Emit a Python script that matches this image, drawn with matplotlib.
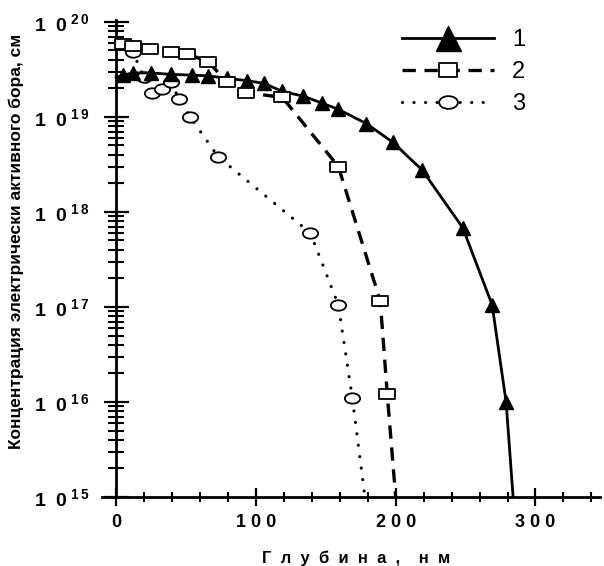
#!/usr/bin/env python3
"""Boron activation depth profiles: three curves on log scale."""
import numpy as np
import matplotlib
matplotlib.use("Agg")
import matplotlib.pyplot as plt
from matplotlib.path import Path
from matplotlib.ticker import FixedLocator, MultipleLocator, LogLocator, FuncFormatter, NullFormatter

plt.rcParams.update({
    "font.family": "Liberation Sans",
    "font.weight": "bold",
    "mathtext.fontset": "custom",
    "mathtext.rm": "Liberation Sans:bold",
    "mathtext.it": "Liberation Sans:bold",
    "mathtext.bf": "Liberation Sans:bold",
})

# ===== DATA =====
# curve 1: first and last points are line ends only (no marker)
depth1 = [0, 5, 12, 25, 39, 54, 66, 79, 94, 106, 119, 134, 147, 159, 179, 198, 219, 248, 269, 279, 284]
conc1 = [2.6e19, 2.75e19, 2.9e19, 2.9e19, 2.8e19, 2.75e19, 2.7e19, 2.55e19, 2.4e19, 2.25e19,
         1.85e19, 1.65e19, 1.4e19, 1.2e19, 8.5e18, 5.4e18, 2.75e18, 6.8e17, 1.05e17, 1.0e16, 1e15]

# curve 2: last point is line end
depth2 = [5, 12, 24, 39, 51, 66, 79, 93, 119, 159, 189, 194, 200]
conc2 = [5.8e19, 5.5e19, 5.2e19, 4.8e19, 4.6e19, 3.8e19, 2.35e19, 1.8e19, 1.6e19,
         3.0e18, 1.15e17, 1.2e16, 1e15]

# curve 3: last point is line end
depth3 = [5, 12, 20, 26, 33, 39, 45, 53, 73, 139, 159, 169, 178]
conc3 = [5.9e19, 4.8e19, 2.6e19, 1.8e19, 1.95e19, 2.35e19, 1.55e19, 1.0e19, 3.8e18,
         6.0e17, 1.05e17, 1.1e16, 1e15]

labels = ["1", "2", "3"]
x_major = [0, 100, 200, 300]

# flattened markers like in the scanned figure
_c = Path.unit_circle()
ELLIPSE = Path(_c.vertices * np.array([1.0, 0.68]), _c.codes)
RECT = Path([[-1, -0.7], [1, -0.7], [1, 0.7], [-1, 0.7], [-1, -0.7]],
            [Path.MOVETO, Path.LINETO, Path.LINETO, Path.LINETO, Path.CLOSEPOLY])

fig = plt.figure(figsize=(6.04, 5.66), dpi=100)
ax = fig.add_axes([0.169, 0.122, 0.824, 0.843])

ax.plot(depth3, conc3, color="k", lw=2.3, ls=(0, (0.01, 3.6)), dash_capstyle="round",
        marker=ELLIPSE, ms=11, mfc="white", mec="k", mew=1.3,
        markevery=list(range(len(depth3) - 1)), label=labels[2], zorder=2)
ax.plot(depth1, conc1, color="k", lw=2.0, ls="-",
        marker="^", ms=10, mfc="k", mec="k",
        markevery=list(range(1, len(depth1) - 1)), label=labels[0], zorder=3)
ax.plot(depth2, conc2, color="k", lw=2.4, ls=(0, (4, 2.6)),
        marker=RECT, ms=11, mfc="white", mec="k", mew=1.3,
        markevery=list(range(len(depth2) - 1)), label=labels[1], zorder=4)

ax.set_yscale("log")
ax.set_xlim(-10, 346)
ax.set_ylim(1e15, 1.05e20)

for s in ["top", "right"]:
    ax.spines[s].set_visible(False)
ax.spines["left"].set_position(("data", 0))
ax.spines["left"].set_linewidth(2.0)
ax.spines["bottom"].set_linewidth(2.0)

ax.xaxis.set_major_locator(FixedLocator(x_major))
ax.xaxis.set_minor_locator(MultipleLocator(20))
ax.xaxis.set_major_formatter(FuncFormatter(lambda v, p: " ".join(str(int(round(v))))))
ax.yaxis.set_major_locator(LogLocator(base=10, numticks=10))
ax.yaxis.set_minor_locator(LogLocator(base=10, subs=np.arange(2, 10), numticks=20))
ax.yaxis.set_minor_formatter(NullFormatter())
ax.yaxis.set_major_formatter(FuncFormatter(
    lambda v, p: "1  0$^{\\,\\," + r"\,".join(str(int(round(np.log10(v))))) + "}$"))

ax.tick_params(axis="y", which="major", direction="inout", length=18, width=1.6,
               labelsize=14, pad=10)
ax.tick_params(axis="y", which="minor", direction="inout", length=12, width=1.5)
ax.tick_params(axis="x", which="major", direction="inout", length=13, width=1.6,
               labelsize=13, pad=6)
ax.tick_params(axis="x", which="minor", direction="inout", length=7, width=1.5)

ax.set_ylabel("Концентрация электрически активного бора, см", fontsize=12.5, fontweight="bold")
ax.yaxis.set_label_coords(-0.157, 0.535)
ax.set_xlabel("Г  л  у  б  и  н  а  ,    н  м", fontsize=12, fontweight="bold")
ax.xaxis.set_label_coords(0.51, -0.112)

handles, labs = ax.get_legend_handles_labels()
order = [1, 2, 0]
leg = ax.legend([handles[i] for i in order], [labs[i] for i in order],
                loc="upper left", bbox_to_anchor=(402 / 604, 1 - 29 / 566),
                bbox_transform=fig.transFigure, frameon=False,
                handlelength=3.9, handletextpad=0.75, labelspacing=0.42,
                borderpad=0, borderaxespad=0,
                prop={"family": "Liberation Sans", "weight": "normal", "size": 17})
for h, ms in zip(leg.legend_handles, [18, 13.5, 13.5]):
    h.set_markersize(ms)

fig.savefig("out.png", dpi=100)
